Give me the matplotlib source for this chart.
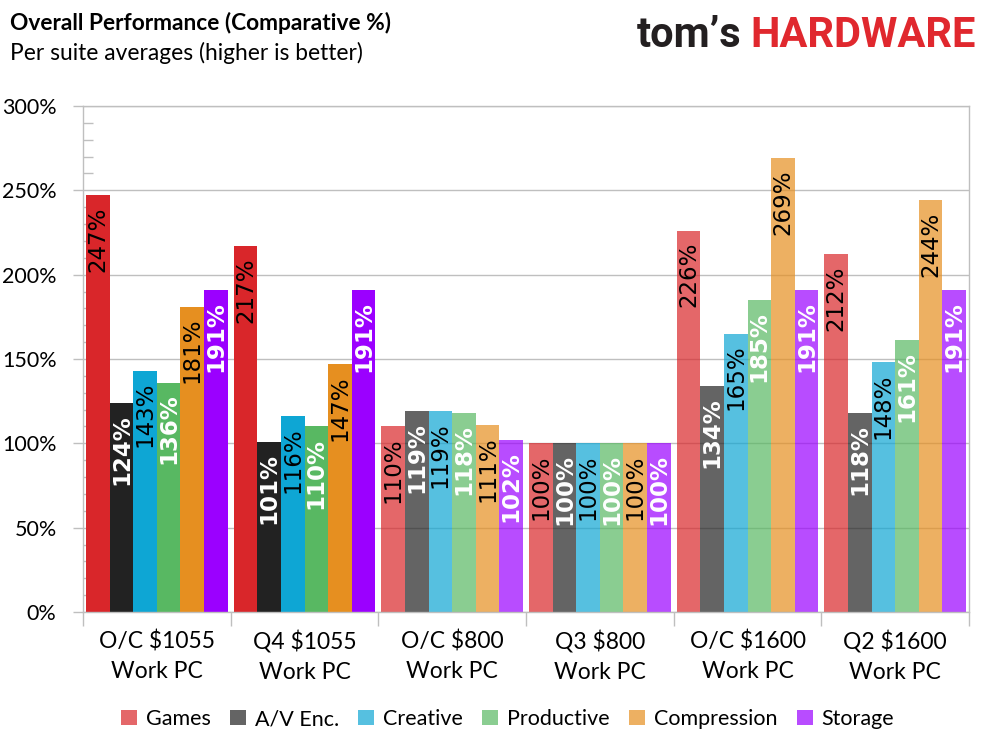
import numpy as np
import matplotlib
matplotlib.use("Agg")
import matplotlib.pyplot as plt
from matplotlib.colors import to_rgba
from matplotlib.patches import Patch
from matplotlib.ticker import MultipleLocator, FixedLocator, NullFormatter

# datos
grupos = ["O/C $1055\nWork PC", "Q4 $1055\nWork PC", "O/C $800\nWork PC",
          "Q3 $800\nWork PC", "O/C $1600\nWork PC", "Q2 $1600\nWork PC"]
series = ["Games", "A/V Enc.", "Creative", "Productive", "Compression", "Storage"]
games = [247, 217, 110, 100, 226, 212]
av_enc = [124, 101, 119, 100, 134, 118]
creative = [143, 116, 119, 100, 165, 148]
productive = [136, 110, 118, 100, 185, 161]
compression = [181, 147, 111, 100, 269, 244]
storage = [191, 191, 102, 100, 191, 191]
valores = [games, av_enc, creative, productive, compression, storage]

# estilo
colores = ["#d9262a", "#222222", "#0ea6d4", "#58b862", "#e68f20", "#9b00ff"]
color_texto = ["black", "white", "black", "white", "black", "white"]
alfa_grupo = [1.0, 1.0, 0.7, 0.7, 0.7, 0.7]
gris = "#bfbfbf"
fuente = "Lato"

fig = plt.figure(figsize=(9.89, 7.41), dpi=100)
ax = fig.add_axes([83 / 989, 1 - 612 / 741, (969 - 83) / 989, (612 - 106) / 741])

n = len(series)
ancho = 0.16
x = np.arange(len(grupos))

for i in range(n):
    pos = x + (i - (n - 1) / 2) * ancho
    cols = [to_rgba(colores[i], a) for a in alfa_grupo]
    ax.bar(pos, valores[i], width=ancho, color=cols, zorder=2, linewidth=0)
    for px, v in zip(pos, valores[i]):
        ax.annotate(f"{v}%", (px, v), xytext=(0, -8), textcoords="offset points",
                    rotation=90, ha="center", va="top", fontsize=16.5,
                    family="DejaVu Sans", color=color_texto[i],
                    fontweight="bold" if color_texto[i] == "white" else "normal",
                    zorder=3)

ax.set_xlim(-0.5, len(grupos) - 0.5)
ax.set_ylim(0, 300)

# eje y
ax.yaxis.set_major_locator(MultipleLocator(50))
ax.yaxis.set_minor_locator(MultipleLocator(10))
ax.set_yticklabels([f"{int(t)}%" for t in ax.get_yticks()])
ax.tick_params(axis="y", which="major", direction="out", length=7, width=1,
               color=gris, pad=12, labelsize=15.5)
ax.tick_params(axis="y", which="minor", direction="in", length=7, width=1, color=gris)
ax.grid(axis="y", which="major", color=gris, linewidth=1, zorder=0)
ax.set_axisbelow(True)

# eje x
ax.xaxis.set_major_locator(FixedLocator(np.arange(-0.5, len(grupos), 1.0)))
ax.xaxis.set_major_formatter(NullFormatter())
ax.xaxis.set_minor_locator(FixedLocator(x))
ax.set_xticklabels(grupos, minor=True)
ax.tick_params(axis="x", which="major", direction="out", length=10, width=1, color=gris)
ax.tick_params(axis="x", which="minor", length=0, pad=13, labelsize=16.5)
for lbl in ax.get_xticklabels(minor=True):
    lbl.set_linespacing(1.5)

for lbl in ax.get_xticklabels(minor=True) + ax.get_yticklabels():
    lbl.set_family(fuente)

for s in ax.spines.values():
    s.set_color(gris)
    s.set_linewidth(1)

# leyenda
manijas = [Patch(facecolor=to_rgba(c, 0.7), edgecolor="none") for c in colores]
fig.legend(manijas, series, loc="center", bbox_to_anchor=(0.513, 1 - 719 / 741),
           ncol=n, frameon=False, handlelength=0.75, handleheight=0.75,
           handletextpad=0.4, columnspacing=0.9,
           prop={"family": fuente, "size": 15.5})

# titulos
fig.text(10 / 989, 1 - 30 / 741, "Overall Performance (Comparative %)",
         family=fuente, fontweight="bold", fontsize=16.4, va="baseline")
fig.text(10 / 989, 1 - 60 / 741, "Per suite averages (higher is better)",
         family=fuente, fontsize=16.4, va="baseline")

# logo
fig.text(741 / 989, 1 - 47 / 741, "tom’s", family="Roboto", fontweight="bold",
         fontsize=30, color="#231f20", ha="right", va="baseline")
fig.text(976 / 989, 1 - 47 / 741, "HARDWARE", family="Roboto", fontweight="bold",
         fontsize=30, color="#e0282e", ha="right", va="baseline")

fig.savefig("out.png", dpi=100)
